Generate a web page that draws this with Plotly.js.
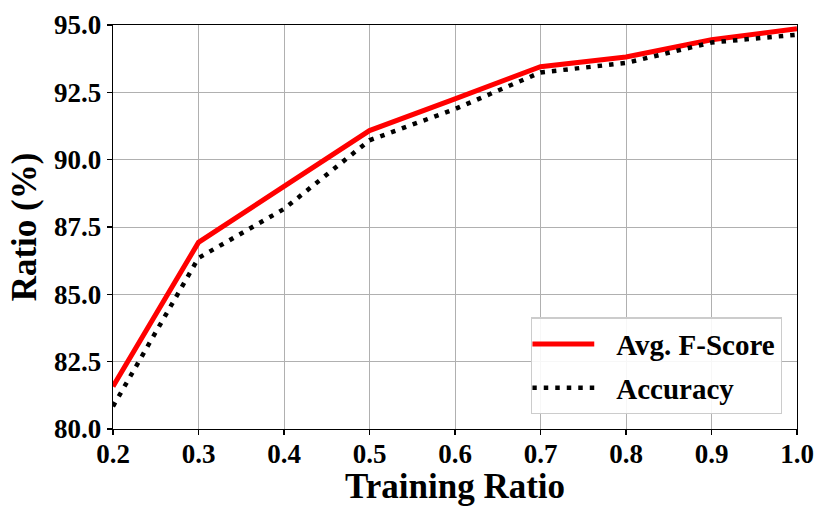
<!DOCTYPE html>
<html>
<head>
<meta charset="utf-8">
<script src="https://cdn.plot.ly/plotly-3.0.1.min.js"></script>
<style>
  html, body { margin: 0; padding: 0; background: #fff; }
  #plot { width: 830px; height: 519px; }
</style>
</head>
<body>
<div id="plot"></div>
<script>
const trainingRatio = [0.2, 0.3, 0.4, 0.5, 0.6, 0.7, 0.8, 0.9, 1.0];
const avgFScore = [81.58, 86.93, 89.01, 91.08, 92.26, 93.45, 93.81, 94.45, 94.86];
const accuracy = [80.84, 86.35, 88.17, 90.72, 91.88, 93.24, 93.59, 94.35, 94.64];
const yTicks = [80.0, 82.5, 85.0, 87.5, 90.0, 92.5, 95.0];
const xTicks = [0.2, 0.3, 0.4, 0.5, 0.6, 0.7, 0.8, 0.9, 1.0];

const serif = "Liberation Serif";

const traces = [
  {
    x: trainingRatio,
    y: avgFScore,
    name: "Avg. F-Score",
    legendgroup: "f",
    mode: "lines",
    type: "scatter",
    line: { color: "#ff0000", width: 5 }
  },
  {
    x: trainingRatio,
    y: accuracy,
    name: "Accuracy",
    legendgroup: "a",
    mode: "lines",
    type: "scatter",
    line: { color: "#000000", width: 4.5, dash: "4.5px,7px" }
  }
];

function axisBase() {
  return {
    showline: true,
    linecolor: "#000",
    linewidth: 1.3,
    mirror: true,
    ticks: "outside",
    ticklen: 5,
    tickwidth: 1.3,
    tickcolor: "#000",
    showgrid: true,
    gridcolor: "#b0b0b0",
    gridwidth: 1,
    zeroline: false,
    tickfont: { family: serif, size: 27, color: "#000", weight: 700 }
  };
}

const layout = {
  width: 830,
  height: 519,
  margin: { l: 113, r: 33, t: 25, b: 89.5 },
  font: { family: serif, color: "#000", weight: 700 },
  paper_bgcolor: "#fff",
  plot_bgcolor: "#fff",
  showlegend: true,
  xaxis: Object.assign(axisBase(), {
    range: [0.2, 1.0],
    tickvals: xTicks,
    ticktext: xTicks.map(v => v.toFixed(1)),
    ticklabelstandoff: -5
  }),
  yaxis: Object.assign(axisBase(), {
    range: [80, 95],
    tickvals: yTicks,
    ticktext: yTicks.map(v => v.toFixed(1)),
    title: { text: "Ratio (%)", standoff: 6,
             font: { family: serif, size: 35, color: "#000", weight: 700 } }
  }),
  annotations: [{
    text: "Training Ratio",
    xref: "paper", yref: "paper",
    x: 0.5, y: 0,
    xanchor: "center", yanchor: "middle",
    yshift: -57,
    showarrow: false,
    font: { family: serif, size: 35, color: "#000", weight: 700 }
  }],
  legend: {
    x: 0.978,
    y: 0.036,
    xanchor: "right",
    yanchor: "bottom",
    bgcolor: "rgba(255,255,255,0.9)",
    bordercolor: "#cccccc",
    borderwidth: 1.3,
    font: { family: serif, size: 29, color: "#000", weight: 700 },
    itemwidth: 74,
    tracegroupgap: 3
  }
};

Plotly.newPlot("plot", traces, layout, { staticPlot: true, displayModeBar: false }).then(gd => {
  // matplotlib-style longer legend handles
  gd.querySelectorAll(".legendlines path").forEach(p => p.setAttribute("d", "M0,0h62"));
});
</script>
</body>
</html>
